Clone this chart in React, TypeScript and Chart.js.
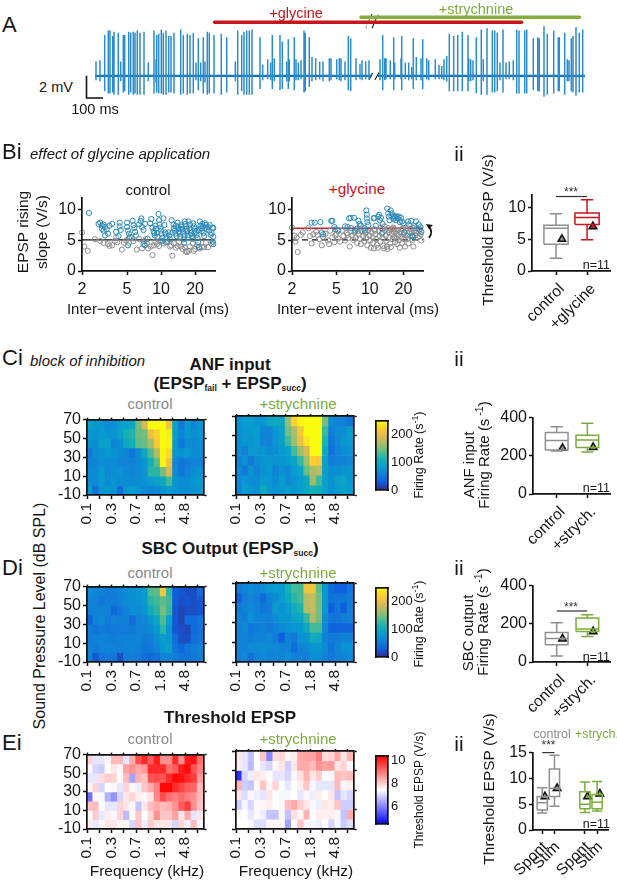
import React, { useEffect, useRef } from "react";
import { Chart, registerables } from "chart.js";

Chart.register(...registerables);

const FONT = "'Liberation Sans', Arial, sans-serif";
const INK = "#161616";
const GRAY = "#8a8a8a";
const GREEN = "#7cab3d";
const RED = "#c4161c";
const SCATTER_BLUE = "#2a88b8";
const SCATTER_GRAY = "#8d8d8d";

// ---------- Panel A: spike times (1 unit = 5.88 ms), upward and downward peak in mV ----------
const tallSpikes = [
  [9.7,3.7,1.4],[13.3,4.1,1.6],[15,4.1,1.6],[17.7,3.6,1.5],[19,4,1.7],[23.3,3.9,1.7],[28.3,3.7,1.5],[29.7,3.7,1.4],[33.7,4,1.7],[35.7,3.9,1.5],
  [38.3,4,1.7],[40,3.9,1.6],[42.3,4.1,1.7],[45,3.9,1.7],[49,4,1.7],[59,4.1,1.6],[61.7,3.7,1.5],[63.7,3.8,1.6],[66.3,4.2,1.6],[68.3,3.9,1.7],
  [71,4.1,1.7],[73.7,3.6,1.5],[76,3.6,1.5],[79,3.9,1.6],[85.7,4.2,1.7],[88.3,3.7,1.6],[92.3,3.8,1.7],[95,3.7,1.6],[98.3,3.9,1.6],[103.3,3.4,1.3],
  [108.3,3.5,1.6],[112.3,4,1.7],[114.3,3.9,1.6],[119,3.7,1.6],[126.3,3.8,1.7],[131.7,3.5,1.5],[142.7,4.1,1.7],[146.7,3.7,1.4],[149,4,1.7],[151.7,4.1,1.7],
  [154.3,4.1,1.7],[157,4.2,1.7],[165,3.5,1.2],[177.3,3.7,1.2],[185,3.7,1.3],[187.3,3.1,1.2],[193.3,3.3,1.2],[199.3,3.5,1.3],[209,4.1,1.5],[210.3,3.9,1.4],
  [214.3,3.5,1],[253.3,3.6,1.3],[255.7,3.4,1.4],[287.7,3.7,1.3],[298.7,3.5,1.3],[306.7,3.6,1.3],[318.3,3.4,1.2],[327.7,3.3,1.2],[354.3,3.8,1.4],[358.7,3.6,1.4],
  [362.7,3.7,1.4],[367.3,4,1.4],[373,3.7,1.4],[381.3,3.5,1.6],[386.3,4.2,1.7],[392,4.3,1.7],[397.3,4.1,1.5],[399.7,4.1,1.5],[402.3,3.9,1.4],[408,4.2,1.5],
  [421.7,4.2,1.6],[424,4.1,1.6],[429.7,4.1,1.6],[431.7,4.2,1.6],[438.3,3.4,1.3],[442.7,3.5,1.4],[444.3,3.4,1.4],[449,4.5,1.9],[452.3,3.8,1.7],[458.7,4.1,1.6],
  [463.3,3.5,1.4],[464.3,3.5,1.4],[469.7,3.9,1.7],[476.3,3.4,1.4],[478,3.6,1.5],[481,4.4,1.8],[484.3,3.9,1.5],[487.7,4.2,1.5],
];
const smallSpikes = [
  [1,1.3,0.4],[5,1.4,0.5],[25.7,1.3,0.5],[53.3,1.2,0.5],[61,1.5,0.6],[101,1.2,0.4],[105.7,1.2,0.5],[110,1.3,0.6],[140.3,1.3,0.5],[167.7,1,0.4],
  [172.7,1.5,0.3],[175.7,1.2,0.4],[179.3,1.6,0.5],[191.7,1.3,0.5],[194.3,1.5,0.5],[201,1.5,0.4],[203.3,1.2,0.4],[206,1.4,0.3],[217,1.7,0.5],[220.7,1.6,0.4],
  [224.7,1.3,0.3],[228,1.3,0.5],[234.3,1.6,0.5],[236,1.6,0.4],[241.7,1.5,0.3],[244.3,1.6,0.4],[246,1.6,0.5],[250,1.3,0.4],[261,1.6,0.4],[265,1.1,0.3],
  [267,1.4,0.4],[270.7,1.3,0.3],[274,1.4,0.3],[285,1.5,0.4],[289.7,1.6,0.4],[291,1.6,0.3],[295.3,1.4,0.3],[299.7,1.2,0.3],[306,1.6,0.3],[310.3,1.2,0.3],
  [313.7,1.2,0.4],[316.7,0.8,0.3],[321.3,1.7,0.4],[326,1.6,0.4],[331.7,1.6,0.3],[333.7,1.4,0.4],[340.3,1.5,0.3],[344,1,0.3],[346.7,0.9,0.3],[349,1.5,0.4],
  [351.7,1.8,0.5],[373.7,1.6,0.5],[375.7,1.5,0.5],[378,1.4,0.4],[388.3,1.5,0.5],[405,1.2,0.4],[411,1.2,0.3],[414.3,1.3,0.3],[418.3,1.4,0.4],[472.3,1.5,0.5],[474,1.4,0.5],
];
const traceSegments = [[0, 277], [283, 490]];
const glycineBar = [119.6, 426.6];
const strychnineBar = [266, 484.5];

// ---------- Panel B scatter: [inter-event interval ms, rising slope V/s] ----------
const controlBlue = [
  [2.3,9.5],[2.8,7.7],[2.9,7.9],[3,7.4],[3,6.9],[3.1,7.6],[3.1,6.6],[3.2,7.2],[3.3,6.8],[3.2,5.8],[3.4,6.1],[3.5,7.4],[3.7,7.7],[4,6.4],[4.3,7.9],[4.3,7.3],[4.4,6.7],[4.2,5.7],
  [5,7.9],[5,7.2],[5.1,6.6],[5.2,6.1],[5.3,5.6],[5.1,4.2],[5.6,8.2],[5.7,7.5],[5.8,7],[5.9,6.4],[6,5.8],[6.4,7.6],[6.6,8.2],[6.7,8.6],[6.8,7.2],[7,6.7],[7.2,7.7],[7,4.4],[7.2,4.2],[7.6,5.3],
  [8,7.8],[8.2,8.5],[8.4,7.1],[8.6,6.5],[8.7,6.2],[8.8,5.8],[8.9,7.4],[9,6.9],[9.2,6.2],[9.3,5.6],[9.5,9.3],[9.6,8.3],[9.7,7.6],[9.9,7.1],[10,6.6],[10.1,6.1],[10.3,5.4],[10.3,4.9],[10.5,8.6],
  [10.7,7.5],[10.9,6.3],[11,6],[11.2,5.5],[11.3,4.8],[11.6,6.3],[11.8,5.8],[12,5.2],[12.4,8.3],[12.6,6.3],[13,7],[13.2,6.6],[13.5,7.4],[13.7,5.7],[14,7.9],[14.2,7],[14.4,6.5],[14.6,6.1],[14.8,5.6],
  [15,7.5],[15.2,7.2],[15.4,6.8],[15.6,6.3],[15.8,5.2],[16,4.6],[16.2,8.1],[16.4,7.7],[16.6,7.3],[16.8,6.9],[17,6.5],[17.2,5.9],[17.4,5.5],[17.5,8.1],[17.8,7],[18,7.6],[18.2,6.7],[18.5,6.2],[18.8,5.7],
  [19,5.3],[19.3,7.8],[19.6,7.3],[20,6.9],[20.3,6.4],[20.6,5.9],[21,5.4],[21.3,4.7],[21.6,3.9],[22,8.1],[22.3,7.4],[22.6,7],[22.9,6.5],[23.2,7.7],[23.5,7.3],[23.8,6.2],[24,5.7],[24.5,7.8],[25,7.5],
  [25.5,6.9],[26,7.2],[26.5,6.6],[27,7.5],[27.5,5.9],[28,6.2],[28.5,7.1],[29,7],[29,5.6],[29,4.4],[28.7,4.8],[13.4,6.1],[14.9,6.9],[16.1,5.8],[19.8,6.2],[21.5,6.7],[12.9,7.6],
];
const controlGray = [
  [2,6.3],[2.1,4],[2.25,3.3],[2.6,5.2],[2.9,4.9],[3.1,4.6],[3.4,4.4],[3.5,4.1],[3.7,4.2],[3.9,4.9],[4.1,4.7],[4.5,3.5],[4.7,4.6],[4.9,5],[5.2,4.6],[5.5,5.5],[5.7,4.9],[6.1,3.5],[6.4,5.2],[6.8,3.7],
  [7.1,4.9],[7.5,4.5],[7.7,3.7],[8.1,4],[8.4,2.6],[8.6,4.2],[8.9,4.8],[9.2,4.4],[9.6,4.1],[10,4.9],[10.6,4.5],[11,4.7],[12,4],[12.3,4.2],[12.6,2.5],[13,4.5],[13.5,3.8],[14,4.1],[14.5,4.7],[15,4],
  [15.5,3.6],[16.2,3.9],[16.5,3.2],[17,3.1],[17.5,3.3],[18,4],[19,4.5],[19.5,3.3],[20,3.6],[21,4.2],[22,3.7],[23,3.9],[24,3.9],[25,4.6],[26,3.9],[28,4.4],[4,5.5],[5.2,5.4],[7.3,5.2],
];
const glycineBlue = [
  [3,7.9],[3.2,7.9],[3.6,8],[3.7,6.3],[3.8,6],[4.5,8.2],[4.6,8.2],[4.8,7.2],[4.9,6.8],[5.2,6.6],[6,7.3],[6.3,7.2],[6.5,8.6],[6.7,8.7],[6.8,7],[7.2,8.7],[7.4,6.6],[7.6,6.9],[7.9,8.2],[8.1,7.7],
  [8.3,7.4],[8.9,7],[9,6.6],[9.3,9.9],[9.4,9.2],[9.4,8.6],[9.5,8],[9.7,7.5],[10.8,8.6],[11,8.7],[11.3,7.4],[11.9,8.9],[12.1,9.2],[12.3,8.3],[12.6,8.7],[13,7.7],[13,6.3],[14.3,10.2],[14.6,9.4],[14.8,8.9],
  [15,8.3],[15.4,9.9],[15.7,9.4],[16,8.9],[16.3,8.5],[16.6,9],[16.9,8.7],[17.2,8.3],[17.5,8.9],[17.9,8.6],[18.2,8.9],[18.6,8],[19,8.7],[19.4,8.1],[20,7.8],[20.4,6.3],[22,8.1],[22.4,7.6],[23.5,8.2],[24,5.7],
  [24.4,5.6],[25,7.3],[26,8.1],[27.5,7.6],[28,6.8],[28.5,7.2],[29,6.4],
];
const glycineGray = [
  [2,7.1],[2.1,5.8],[2.15,4.8],[2.2,5.5],[2.25,3.1],[2.4,5.9],[2.5,6.3],[2.8,7],[2.9,5.7],[3,4.5],[3.1,6],[3.3,6.4],[3.5,5.2],[3.7,4.2],[3.8,5.6],[4,6.1],[4.2,5],[4.3,4.4],[4.4,6.6],[4.6,5.5],
  [4.8,4.7],[5,6.1],[5.2,5.3],[5.4,4.8],[5.6,6.6],[5.8,5.7],[6,5],[6.2,6.2],[6.4,5.4],[6.6,4],[6.7,6.5],[6.9,5.8],[7.1,5.1],[7.3,6.3],[7.5,5.5],[7.7,4.6],[7.9,6],[8.1,5.3],[8.3,4.4],[8.5,6.5],
  [8.7,5.7],[8.9,4.9],[9.1,6.2],[9.3,5.4],[9.5,4.2],[9.7,6.7],[9.9,5.8],[10.1,5],[10.2,3.8],[10.4,6.3],[10.6,5.5],[10.7,4.6],[10.9,3.7],[11,6.8],[11.2,6],[11.4,5.2],[11.6,4.3],[11.8,3.8],[12,6.5],[12.2,5.7],
  [12.4,4.8],[12.6,7.1],[12.8,6.1],[13,5.4],[13.2,4.1],[13.4,3.7],[13.5,7.3],[13.7,6.6],[13.9,5.8],[14.1,4.9],[14.3,4],[14.4,3.6],[14.6,7],[14.8,6.3],[15,5.5],[15.2,4.5],[15.4,3.9],[15.6,6.8],[15.8,6],[16,5.2],
  [16.2,7.1],[16.4,6.4],[16.6,5.6],[16.8,4.7],[17,6.8],[17.2,6.1],[17.4,5.3],[17.6,4.4],[17.8,6.6],[18,5.8],[18.3,5],[18.6,3.8],[18.9,6.3],[19.2,5.5],[19.5,4.6],[19.8,6.9],[20.1,6],[20.4,5.2],[20.7,4],
  [21,6.6],[21.4,5.8],[21.8,5.3],[22.2,4.5],[22.6,6.4],[23,5.7],[23.4,6.9],[23.8,6.2],[24.2,5.1],[24.6,4],[25,6.6],[25.5,5.8],[26,6.2],[26.5,7],[27,5.5],[27.5,6.4],[28,5.7],[28.6,6],[29,5],
  [3.4,5.9],[4.9,5.8],[6.3,5.9],[7.8,6.5],[9.4,6.4],[11.1,6.6],[12.9,6.9],[14.7,6.7],[16.5,6.9],[19.1,6.8],[21.6,7],[24.9,7],
];
const thresholdGlycine = [7];
const thresholdControl = [5.1];

// ---------- Heat maps: 8 level rows from 70 dB down, 19 frequency columns ----------
const freqTickLabels = { 0: "0.1", 4: "0.3", 8: "0.7", 12: "1.8", 16: "4.8" };
const levelTicks = [-10, 10, 30, 50, 70];
const anfControl = [
  [88,80,78,70,72,85,90,98,150,190,250,250,250,210,90,50,80,60,80],
  [80,74,82,74,76,88,110,118,145,150,205,225,250,240,85,60,80,72,78],
  [76,70,90,88,64,72,95,110,140,145,165,215,250,245,80,50,70,66,72],
  [52,70,74,80,74,70,62,50,70,100,135,175,245,230,80,75,82,68,70],
  [62,64,72,70,70,60,60,62,66,80,110,140,245,210,65,50,55,60,62],
  [66,70,84,66,72,74,66,62,68,76,120,120,150,190,70,50,60,70,74],
  [70,68,82,70,76,72,70,66,70,74,85,90,100,130,80,70,72,80,82],
  [82,45,78,80,74,40,78,84,76,66,62,66,74,82,76,72,70,74,78],
];
const anfStrych = [
  [74,82,86,74,78,92,100,96,160,225,245,250,250,250,150,70,60,60,50],
  [72,78,82,84,64,62,78,88,150,170,215,250,250,250,125,55,68,72,88],
  [72,80,76,82,62,58,76,90,130,165,205,235,250,250,115,50,65,80,82],
  [70,58,78,78,78,70,72,84,88,130,165,190,250,250,100,45,60,72,76],
  [60,74,52,70,76,80,74,78,84,95,125,165,225,215,90,55,58,62,66],
  [68,52,76,60,74,80,58,74,66,82,92,145,170,175,90,70,72,76,80],
  [66,78,72,70,82,78,70,84,66,76,86,100,165,130,90,72,88,92,80],
  [62,84,78,74,104,82,76,80,84,78,86,96,110,105,88,74,82,90,84],
];
const sbcControl = [
  [70,64,60,52,56,62,68,72,74,82,135,140,210,120,30,25,18,20,40],
  [62,58,50,56,54,60,68,70,74,85,120,130,140,130,30,20,25,20,25],
  [58,60,62,58,38,50,60,72,66,76,105,120,150,125,25,15,20,20,25],
  [35,60,66,54,60,58,58,40,60,66,78,95,135,90,25,15,40,40,50],
  [56,46,56,50,52,54,56,52,60,62,70,80,120,75,25,20,15,40,45],
  [56,60,62,58,56,58,60,62,64,54,56,72,85,80,40,20,20,45,50],
  [58,54,60,62,60,58,62,60,60,50,52,60,80,90,50,35,50,55,62],
  [62,25,46,52,50,20,56,58,52,42,38,44,60,64,56,50,46,52,56],
];
const sbcStrych = [
  [56,60,68,64,72,78,84,82,110,130,130,210,210,140,80,40,30,30,50],
  [30,56,64,56,38,62,70,84,100,120,130,175,180,150,80,45,50,50,55],
  [52,62,66,60,50,54,86,72,84,105,115,175,180,150,80,30,50,30,55],
  [58,56,74,62,62,58,70,80,76,92,95,125,170,150,70,50,48,56,62],
  [60,68,50,56,60,52,60,66,74,78,80,100,130,130,65,35,35,35,35],
  [60,60,54,60,62,66,52,30,58,52,75,76,105,100,60,52,54,62,58],
  [62,60,68,70,72,68,66,60,64,40,62,66,80,80,70,45,60,75,75],
  [60,66,45,62,66,60,62,64,70,60,62,56,72,70,60,52,58,62,66],
];
const thrControl = [
  [8,7.2,7.2,7.6,8.3,8.3,7.2,8.5,9.6,10,9.4,10.2,8.8,8.8,10,8.8,10.2,10.3,9.2],
  [7.6,7,6.9,7.5,7.8,7.6,8.6,8.8,8.5,8.7,10,10,10,9.2,9.4,10.2,10.4,9.5,9],
  [7.2,7.2,7.9,8.1,8,7.5,8.3,6.4,8.4,8.2,9.5,9.6,9.5,10,10.4,10.3,10,9.8,8.7],
  [7.6,8,7,7.5,7.6,7.2,8,7.6,7.3,8.2,8.5,9,10.4,10.4,10,9.7,9.4,9.3,8.3],
  [5.8,7.6,7.4,6.6,6.2,7,7.8,8,7.7,7.6,7.8,8.9,9.6,9.2,9,9.2,9,8.8,8.3],
  [8.2,8.3,7.5,7.2,7.2,8,7.8,7.6,6.8,7.8,8.3,8.5,8.3,8.4,8.8,9.4,9.8,8.8,8.2],
  [7.4,8.1,7.2,7.7,7.4,8,6.7,7.5,8.2,7.5,8,8.8,8.2,8.2,8.6,7.8,8.5,7.2,7.8],
  [7.7,7.2,7.6,7.8,7.8,7.6,7.6,7,8.2,7.3,8.1,7.8,7.8,7.8,7,8,7.3,8.3,7.4],
];
const thrStrych = [
  [7.8,7.2,6.8,7.5,8.2,6.1,7.9,8,7.6,7.7,8.5,8.6,8.6,9,7.9,8,8.5,7.8,8.4],
  [7.7,7.2,6.7,7.5,7.2,7,7.6,7.8,6.9,7.8,8.5,8.5,8.3,8.8,8.6,8.7,7.8,8,7.4],
  [5,7,7.3,7.8,7.7,7.5,7.2,7.2,7,7.4,7.9,8.4,7.8,8.1,7.5,7.6,8.3,8.2,8.3],
  [8.4,6.9,6.8,7.6,8.2,7.6,8,7.5,7.2,7.5,7.7,8.2,7.4,7.2,7.2,7.2,8.3,7.4,7.7],
  [7.8,7.1,7.6,7.3,7.2,7.8,7.5,7.4,7.4,7.5,7.2,7.6,7.3,7.7,7.5,7.8,6.8,7.2,7],
  [6.9,7.4,7,7.6,7.6,7.7,7.5,7.6,8.3,8.5,8.1,7.8,7.4,7.3,7.8,7.7,8.2,6.9,6.9],
  [7.6,7.5,7.2,7.6,7.3,6.8,6.8,7.6,6.8,7.9,7.6,8.4,7.5,7.7,7.7,7.7,7.4,6.8,8.5],
  [7.5,7.5,7.4,7.1,7.1,7.6,7.6,7.6,6.4,7.5,8.2,7.4,7.4,7.3,7.5,7,7.4,6.9,7.1],
];

// ---------- Box plots: [low whisker, q1, median, q3, high whisker] and mean ----------
const biiBoxes = [[2, 4.2, 6.7, 7.2, 9], [4.9, 7.3, 8.4, 9.1, 11.2]];
const biiMeans = [5, 7];
const ciiBoxes = [[225, 230, 280, 322, 352], [220, 244, 283, 308, 370]];
const ciiMeans = [240, 245];
const diiBoxes = [[32, 90, 123, 155, 206], [133, 160, 173, 230, 248]];
const diiMeans = [122, 160];
const eiiBoxes = [[3.3, 3.9, 5.3, 6.5, 8.2], [4.6, 6.5, 8.1, 11.8, 14.5], [3.4, 4.1, 5, 7.4, 9.3], [3.7, 4.1, 5.4, 6.9, 9.4]];
const eiiMeans = [6.5, 8.1, 6.5, 7];

// ---------- Colour maps ----------
const parulaStops = [[53,42,135],[15,92,221],[18,125,216],[7,156,207],[21,177,180],[89,189,140],[165,190,107],[225,185,82],[252,206,46],[249,251,14]];
const rgb = (c: number[]) => `rgb(${Math.round(c[0])},${Math.round(c[1])},${Math.round(c[2])})`;
function parula(t: number) {
  const v = Math.min(1, Math.max(0, t)) * (parulaStops.length - 1);
  const i = Math.min(parulaStops.length - 2, Math.floor(v));
  const f = v - i;
  return rgb(parulaStops[i].map((a, k) => a + (parulaStops[i + 1][k] - a) * f));
}
const rateColor = (v: number) => parula(v / 250);
function bwrUnit(t: number) {
  const c = Math.min(1, Math.max(0, t));
  if (c < 0.5) { const g = 255 * (c / 0.5); return rgb([g, g, 255]); }
  const g = 255 * ((1 - c) / 0.5);
  return rgb([255, g, g]);
}
const thrColor = (v: number) => bwrUnit((v - 4.5) / 6);

// ---------- Shared axis helpers ----------
const fixedTicks = (vals: number[]) => (s: any) => { s.ticks = vals.map((value) => ({ value })); };
const axisBase = (size = 15, extra: any = {}) => ({
  offset: false,
  border: { display: true, color: "#111", width: 1.7, z: 1 },
  grid: { display: true, offset: false, drawOnChartArea: false, drawTicks: true, tickLength: 4, tickColor: "#111", tickWidth: 1.5 },
  ticks: { font: { family: FONT, size }, color: INK, padding: 2, autoSkip: false, minRotation: 0, maxRotation: 0 },
  ...extra,
});
// m = [left, top, right, bottom] space around the plot. An axis takes exactly its side's space,
// so that its labels are not clipped and the plot area lands where it should.
const baseOptions = (m: number[], scales: any) => {
  const padding: any = { left: m[0], top: m[1], right: m[2], bottom: m[3] };
  const sideIndex: any = { left: 0, top: 1, right: 2, bottom: 3 };
  Object.keys(scales).forEach((key) => {
    const sc = scales[key];
    if (sc.display === false) return;
    const side = sc.position ?? (key[0] === "x" ? "bottom" : "left");
    const size = m[sideIndex[side]];
    padding[side] = 0;
    sc.afterFit = (s: any) => { if (s.isHorizontal()) s.height = size; else s.width = size; };
  });
  return {
    responsive: false,
    animation: false as const,
    devicePixelRatio: 1,
    layout: { autoPadding: false, padding },
    plugins: { legend: { display: false }, title: { display: false }, tooltip: { enabled: false } },
    scales,
  };
};

// ---------- Panel: one canvas placed so that its plot area lands on the wanted rectangle ----------
function Panel({ plot, margin, build }: { plot: number[]; margin: number[]; build: () => any }) {
  const ref = useRef<HTMLCanvasElement>(null);
  useEffect(() => {
    const chart = new Chart(ref.current as any, build());
    return () => chart.destroy();
  }, []);
  const [x0, y0, x1, y1] = plot;
  const [l, t, r, b] = margin;
  const w = Math.round(x1 - x0 + l + r);
  const h = Math.round(y1 - y0 + t + b);
  return <canvas ref={ref} width={w} height={h} style={{ position: "absolute", left: x0 - l, top: y0 - t, width: w, height: h }} />;
}

function T({ x, y, size = 15, color = INK, rot = 0, bold = false, italic = false, align = "center", children }: any) {
  const tx = align === "left" ? "0" : align === "right" ? "-100%" : "-50%";
  return (
    <div style={{ position: "absolute", left: x, top: y, transform: `translate(${tx},-50%) rotate(${rot}deg)`, fontFamily: FONT, fontSize: size, color, fontWeight: bold ? 700 : 400, fontStyle: italic ? "italic" : "normal", whiteSpace: "nowrap", lineHeight: 1 }}>
      {children}
    </div>
  );
}
const Sup = ({ children }: any) => <sup style={{ fontSize: "0.7em", verticalAlign: "0.5em", lineHeight: 0 }}>{children}</sup>;
const Sub = ({ children }: any) => <sub style={{ fontSize: "0.5em", verticalAlign: "-0.25em", lineHeight: 0 }}>{children}</sub>;

// ---------- Chart builders ----------
function traceConfig() {
  const spikePts = (list: number[][]) => {
    const pts: any[] = [];
    list.forEach(([t, up, down]) => { pts.push({ x: t, y: up }, { x: t, y: -down }, { x: t, y: NaN }); });
    return pts;
  };
  const line = (data: any[], color: string, width: number, cap: any = "butt", dash: number[] = []) => ({
    data, borderColor: color, borderWidth: width, showLine: true, pointRadius: 0, borderCapStyle: cap, borderDash: dash, spanGaps: false, tension: 0,
  });
  const datasets = [
    line(spikePts(tallSpikes), "#2b8ccb", 1.5),
    line(spikePts(smallSpikes), "#2b8ccb", 1.5),
    ...traceSegments.map(([a, b]) => line([{ x: a, y: 0 }, { x: b, y: 0 }], "#1573bb", 2.2)),
    line([{ x: -8.5, y: 0 }, { x: -8.5, y: -2 }, { x: 8, y: -2 }], "#111", 1.6),
    line([{ x: glycineBar[0], y: 4.85 }, { x: glycineBar[1], y: 4.85 }], RED, 3.4, "round"),
    line([{ x: strychnineBar[0], y: 5.3 }, { x: strychnineBar[1], y: 5.3 }], "#84ad3c", 3.4, "round"),
    line([{ x: 273, y: 4.3 }, { x: 281, y: 5.7 }], "#fff", 5),
    line([{ x: 271, y: 4.3 }, { x: 277, y: 5.6 }], "#111", 1.1),
    line([{ x: 277, y: 4.3 }, { x: 283, y: 5.6 }], "#111", 1.1),
    line([{ x: 274, y: -0.35 }, { x: 277.5, y: 0.25 }], "#111", 1.1),
    line([{ x: 280, y: -0.35 }, { x: 284, y: 0.3 }], "#111", 1.1),
  ];
  return {
    type: "scatter",
    data: { datasets },
    options: baseOptions([0, 0, 0, 0], {
      x: { type: "linear", display: false, min: -15, max: 500 },
      y: { type: "linear", display: false, min: -3, max: 6.5 },
    }),
  };
}

function scatterConfig(blue: number[][], gray: number[][], solidLine: { v: number; color: string; width: number; dash?: number[] }[]) {
  const pts = (l: number[][]) => l.map(([x, y]) => ({ x, y }));
  const circles = (d: number[][], color: string) => ({
    data: pts(d), showLine: false, pointStyle: "circle", pointRadius: 2.6, pointBorderWidth: 1, pointBorderColor: color, pointBackgroundColor: "rgba(255,255,255,0)", clip: false,
  });
  const lines = solidLine.map((l) => ({
    data: [{ x: 2, y: l.v }, { x: 30, y: l.v }], showLine: true, pointRadius: 0, borderColor: l.color, borderWidth: l.width, borderDash: l.dash || [],
  }));
  const xb = axisBase(16);
  return {
    type: "scatter",
    data: { datasets: [circles(blue, SCATTER_BLUE), circles(gray, SCATTER_GRAY), ...lines] },
    options: baseOptions([30, 6, 12, 30], {
      x: axisBase(16, {
        type: "logarithmic", min: 2, max: 30,
        afterBuildTicks: fixedTicks([2, 5, 10, 20]),
        ticks: { ...xb.ticks, padding: 5, callback: (v: any) => String(v) },
      }),
      y: axisBase(16, { type: "linear", min: 0, max: 12, afterBuildTicks: fixedTicks([0, 5, 10]) }),
    }),
  };
}

function heatConfig(rows: number[][], color: (v: number) => string, cell: number, showY: boolean) {
  const datasets = rows.map((row, r) => ({
    data: row.map((_, c) => ({ x: c + 0.5, y: [60 - 10 * r, 70 - 10 * r] })),
    backgroundColor: row.map((v) => color(v)),
    borderWidth: 0,
    barThickness: cell + 0.4,
    grouped: false,
  }));
  const xBase = axisBase(15.5);
  const yBase = axisBase(16);
  const tickSet = [0, 2, 4, 6, 8, 10, 12, 14, 16, 18];
  return {
    type: "bar",
    data: { datasets },
    options: baseOptions([34, 8, 10, 40], {
      x: axisBase(15.5, {
        type: "linear", min: 0, max: 19,
        afterBuildTicks: fixedTicks(tickSet),
        ticks: { ...xBase.ticks, minRotation: 90, maxRotation: 90, padding: 4, callback: (v: any) => (freqTickLabels as any)[v] ?? "" },
      }),
      x2: axisBase(15.5, { type: "linear", position: "top", min: 0, max: 19, afterBuildTicks: fixedTicks(tickSet), ticks: { ...xBase.ticks, display: false }, grid: { ...xBase.grid, tickLength: 2 } }),
      y: axisBase(16, {
        type: "linear", min: -10, max: 70,
        afterBuildTicks: fixedTicks(levelTicks),
        ticks: { ...yBase.ticks, display: showY },
      }),
      y2: axisBase(16, { type: "linear", position: "right", min: -10, max: 70, afterBuildTicks: fixedTicks(levelTicks), ticks: { ...yBase.ticks, display: false }, grid: { ...yBase.grid, tickLength: 3 } }),
    }),
  };
}

function colorbarConfig(lo: number, hi: number, ticks: number[], unit: (t: number) => string) {
  const fill = (ctx: any) => {
    const area = ctx.chart.chartArea;
    if (!area) return "#fff";
    const g = ctx.chart.ctx.createLinearGradient(0, area.bottom, 0, area.top);
    for (let i = 0; i <= 32; i++) g.addColorStop(i / 32, unit(i / 32));
    return g;
  };
  const noTicks = (o: any) => {
    const b = axisBase(13);
    return { ...b, ...o, grid: { ...b.grid, drawTicks: false, tickLength: 0 }, ticks: { ...b.ticks, display: false } };
  };
  const yb = axisBase(13);
  return {
    type: "bar",
    data: { labels: [""], datasets: [{ data: [[lo, hi]], backgroundColor: fill, borderWidth: 0, barPercentage: 1, categoryPercentage: 1 }] },
    options: baseOptions([4, 6, 34, 6], {
      x: noTicks({ type: "category", position: "bottom", offset: true }),
      x2: noTicks({ type: "category", position: "top", labels: [""], offset: true }),
      y: {
        ...yb, type: "linear", position: "right", min: lo, max: hi,
        afterBuildTicks: fixedTicks(ticks),
        grid: { ...yb.grid, drawTicks: false, tickLength: 0 },
        ticks: { ...yb.ticks, padding: 3 },
      },
      y2: noTicks({ type: "linear", position: "left", min: lo, max: hi }),
    }),
  };
}

function boxConfig(opts: {
  boxes: number[][]; means: number[]; centers: number[]; colors: string[]; fills: string[];
  xRange: number[]; yMax: number; yTicks: number[]; labels: string[]; half: number; cap: number; meanShift: number;
  sig?: number[]; tickFont: number; labelFont: number; meanR?: number; labelShift?: number; labelPad?: number;
}) {
  const { boxes, means, centers, colors, fills, xRange, yMax, yTicks, labels, half, cap, meanShift, sig, tickFont, labelFont, meanR, labelShift, labelPad } = opts;
  const gap = (x: number) => ({ x, y: NaN });
  const datasets: any[] = boxes.map(([lo, q1, med, q3, hi], i) => {
    const c = centers[i];
    return {
      data: [
        { x: c - half, y: q1 }, { x: c + half, y: q1 }, { x: c + half, y: q3 }, { x: c - half, y: q3 }, { x: c - half, y: q1 }, gap(c),
        { x: c - half, y: med }, { x: c + half, y: med }, gap(c),
        { x: c, y: q3 }, { x: c, y: hi }, gap(c), { x: c - cap, y: hi }, { x: c + cap, y: hi }, gap(c),
        { x: c, y: q1 }, { x: c, y: lo }, gap(c), { x: c - cap, y: lo }, { x: c + cap, y: lo },
      ],
      showLine: true, pointRadius: 0, borderColor: colors[i], borderWidth: 1.5, spanGaps: false, clip: false,
    };
  });
  datasets.push({
    data: means.map((m, i) => ({ x: centers[i] + meanShift, y: m })),
    showLine: false, pointStyle: "triangle", pointRadius: meanR ?? 4.4, pointBackgroundColor: fills, pointBorderColor: "#111", pointBorderWidth: 1.5, clip: false,
  });
  if (sig) {
    datasets.push({ data: [{ x: sig[0], y: sig[2] }, { x: sig[1], y: sig[2] }], showLine: true, pointRadius: 0, borderColor: "#333", borderWidth: 1.2, clip: false });
  }
  const xb = axisBase(labelFont);
  return {
    type: "scatter",
    data: { datasets },
    options: baseOptions([40, 10, 5, 60], {
      x: {
        ...xb, type: "linear", min: xRange[0], max: xRange[1],
        afterBuildTicks: fixedTicks(centers),
        ticks: { ...xb.ticks, minRotation: 45, maxRotation: 45, padding: labelPad ?? 5, labelOffset: labelShift ?? 6, callback: (_: any, i: number) => labels[i] },
      },
      y: axisBase(tickFont, { type: "linear", min: 0, max: yMax, afterBuildTicks: fixedTicks(yTicks) }),
    }),
  };
}

const cell = 124.4 / 19;
const boxCenters2 = [1, 2];
const boxRange2 = [0.226, 2.74];
const boxColorsRed = ["#8f8f8f", RED];
const boxColorsGreen = ["#8f8f8f", GREEN];

export default function App() {
  const xPlots = [[87.3, 211.7], [236, 360.8]];
  return (
    <div style={{ position: "absolute", left: 0, top: 0, width: 617, height: 881, overflow: "hidden", background: "#fff" }}>
      {/* A */}
      <T x={2} y={25} size={22} align="left">A</T>
      <Panel plot={[80, 3.5, 595, 108]} margin={[0, 0, 0, 0]} build={traceConfig} />
      <T x={296} y={13} size={14.5} color={RED}>+glycine</T>
      <T x={476} y={9} size={14.5} color="#7fa93c">+strychnine</T>
      <T x={56} y={87} size={14.5}>2 mV</T>
      <T x={95} y={109} size={14.5}>100 ms</T>

      {/* Bi */}
      <T x={2} y={152} size={22} align="left">Bi</T>
      <T x={30} y={153} size={15} italic align="left">effect of glycine application</T>
      <T x={148} y={189} size={15}>control</T>
      <T x={357} y={189} size={15.3} color={RED}>+glycine</T>
      <T x={23} y={232} size={15.5} rot={-90}>EPSP rising</T>
      <T x={42} y={232} size={15.5} rot={-90}>slope (V/s)</T>
      <Panel plot={[82, 192, 215, 271]} margin={[30, 6, 12, 30]} build={() => scatterConfig(controlBlue, controlGray, [{ v: thresholdControl[0], color: "#111", width: 1.3 }])} />
      <Panel plot={[292, 192, 423, 271]} margin={[30, 6, 12, 30]} build={() => scatterConfig(glycineBlue, glycineGray, [{ v: thresholdGlycine[0], color: "#c8202c", width: 1.5 }, { v: thresholdControl[0], color: "#111", width: 1.3, dash: [6, 4] }])} />
      <svg width={14} height={20} style={{ position: "absolute", left: 424, top: 222 }}>
        <path d="M4 4 Q10 9 5 16" fill="none" stroke="#111" strokeWidth={1.8} />
        <path d="M2 2 L9 3 L5 7 Z" fill="#111" />
      </svg>
      <T x={148} y={308} size={15}>Inter−event interval (ms)</T>
      <T x={358} y={308} size={15}>Inter−event interval (ms)</T>

      {/* Bii */}
      <T x={459} y={153} size={21}>ii</T>
      <T x={488} y={230} size={15.5} rot={-90}>Threshold EPSP (V/s)</T>
      <Panel plot={[532, 193, 610, 271]} margin={[40, 10, 5, 60]} build={() => boxConfig({ boxes: biiBoxes, means: biiMeans, centers: boxCenters2, colors: boxColorsRed, fills: ["#8f8f8f", "#b5262c"], xRange: boxRange2, yMax: 12, yTicks: [0, 5, 10], labels: ["control", "+glycine"], half: 0.39, cap: 0.2, meanShift: 0.19, sig: [1, 2, 11.7], tickFont: 16, labelFont: 15.5 })} />
      <T x={571} y={192} size={12} color="#333">***</T>
      <T x={610} y={265} size={12.5} align="right">n=11</T>

      {/* Ci */}
      <T x={2} y={358} size={22} align="left">Ci</T>
      <T x={30} y={360} size={15} italic align="left">block of inhibition</T>
      <T x={230} y={364} size={17} bold>ANF input</T>
      <T x={230} y={383} size={17} bold>(EPSP<Sub>fail</Sub> + EPSP<Sub>succ</Sub>)</T>
      <T x={150} y={403} size={15} color={GRAY}>control</T>
      <T x={298} y={403} size={15} color={GREEN}>+strychnine</T>
      <Panel plot={[xPlots[0][0], 415.7, xPlots[0][1], 494.3]} margin={[34, 8, 10, 40]} build={() => heatConfig(anfControl, rateColor, cell, true)} />
      <Panel plot={[xPlots[1][0], 415.7, xPlots[1][1], 494.3]} margin={[34, 8, 10, 40]} build={() => heatConfig(anfStrych, rateColor, cell, false)} />
      <Panel plot={[375.7, 415.7, 387.7, 494.3]} margin={[4, 6, 34, 6]} build={() => colorbarConfig(0, 250, [0, 100, 200], parula)} />
      <T x={419} y={455} size={12.5} rot={-90}>Firing Rate (s<Sup>-1</Sup>)</T>

      {/* Cii */}
      <T x={459} y={358} size={21}>ii</T>
      <T x={468} y={465} size={15} rot={-90}>ANF input</T>
      <T x={483} y={455} size={15} rot={-90}>Firing Rate (s<Sup> -1</Sup>)</T>
      <Panel plot={[533, 415.7, 610, 494]} margin={[40, 10, 5, 60]} build={() => boxConfig({ boxes: ciiBoxes, means: ciiMeans, centers: boxCenters2, colors: boxColorsGreen, fills: ["#8f8f8f", GREEN], xRange: boxRange2, yMax: 400, yTicks: [0, 200, 400], labels: ["control", "+strych."], half: 0.37, cap: 0.2, meanShift: 0.19, tickFont: 16, labelFont: 15.5 })} />
      <T x={610} y={488} size={12.5} align="right">n=11</T>

      {/* Di */}
      <T x={2} y={568} size={22} align="left">Di</T>
      <T x={230} y={548} size={17} bold>SBC Output (EPSP<Sub>succ</Sub>)</T>
      <T x={150} y={572} size={15} color={GRAY}>control</T>
      <T x={298} y={572} size={15} color={GREEN}>+strychnine</T>
      <Panel plot={[xPlots[0][0], 583.3, xPlots[0][1], 662.3]} margin={[34, 8, 10, 40]} build={() => heatConfig(sbcControl, rateColor, cell, true)} />
      <Panel plot={[xPlots[1][0], 583.3, xPlots[1][1], 662.3]} margin={[34, 8, 10, 40]} build={() => heatConfig(sbcStrych, rateColor, cell, false)} />
      <Panel plot={[375.7, 583.3, 387.7, 662.3]} margin={[4, 6, 34, 6]} build={() => colorbarConfig(0, 250, [0, 100, 200], parula)} />
      <T x={419} y={624} size={12.5} rot={-90}>Firing Rate (s<Sup>-1</Sup>)</T>
      <T x={40} y={616} size={16} rot={-90}>Sound Pressure Level (dB SPL)</T>

      {/* Dii */}
      <T x={459} y={567} size={21}>ii</T>
      <T x={467} y={633} size={15} rot={-90}>SBC output</T>
      <T x={482} y={622} size={15} rot={-90}>Firing Rate (s<Sup> -1</Sup>)</T>
      <Panel plot={[533, 584, 610, 662.3]} margin={[40, 10, 5, 60]} build={() => boxConfig({ boxes: diiBoxes, means: diiMeans, centers: boxCenters2, colors: boxColorsGreen, fills: ["#8f8f8f", GREEN], xRange: boxRange2, yMax: 400, yTicks: [0, 200, 400], labels: ["control", "+strych."], half: 0.37, cap: 0.2, meanShift: 0.19, sig: [1, 2, 267], tickFont: 16, labelFont: 15.5 })} />
      <T x={571} y={607} size={12} color="#333">***</T>
      <T x={610} y={657} size={12.5} align="right">n=11</T>

      {/* Ei */}
      <T x={2} y={743} size={22} align="left">Ei</T>
      <T x={230} y={717} size={17} bold>Threshold EPSP</T>
      <T x={150} y={738} size={15} color={GRAY}>control</T>
      <T x={298} y={738} size={15} color={GREEN}>+strychnine</T>
      <Panel plot={[xPlots[0][0], 751, xPlots[0][1], 829.3]} margin={[34, 8, 10, 40]} build={() => heatConfig(thrControl, thrColor, cell, true)} />
      <Panel plot={[xPlots[1][0], 751, xPlots[1][1], 829.3]} margin={[34, 8, 10, 40]} build={() => heatConfig(thrStrych, thrColor, cell, false)} />
      <Panel plot={[375.7, 751, 387.7, 829.3]} margin={[4, 6, 34, 6]} build={() => colorbarConfig(4.48, 10.43, [6, 8, 10], bwrUnit)} />
      <T x={419} y={790} size={12} rot={-90}>Threshold EPSP (V/s)</T>
      <T x={147} y={871} size={15.5}>Frequency (kHz)</T>
      <T x={296} y={871} size={15.5}>Frequency (kHz)</T>

      {/* Eii */}
      <T x={459} y={743} size={21}>ii</T>
      <T x={489} y={789} size={15.5} rot={-90}>Threshold EPSP (V/s)</T>
      <T x={552} y={734} size={12.5} color={GRAY}>control</T>
      <T x={597} y={734} size={12.5} color={GREEN}>+strych.</T>
      <Panel plot={[533, 750.7, 610, 829.3]} margin={[40, 10, 5, 60]} build={() => boxConfig({ boxes: eiiBoxes, means: eiiMeans, centers: [1, 2, 4.5, 5.5], colors: ["#8f8f8f", "#8f8f8f", GREEN, GREEN], fills: ["#8f8f8f", "#8f8f8f", GREEN, GREEN], xRange: [0.24, 6.42], yMax: 15, yTicks: [0, 5, 10, 15], labels: ["Spont", "Stim", "Spont", "Stim"], half: 0.42, cap: 0.42, meanShift: 0.22, sig: [1, 2, 15], tickFont: 16, labelFont: 15.5, labelShift: 3, labelPad: 4 })} />
      <T x={548.5} y={745} size={12} color="#333">***</T>
      <T x={610} y={824} size={12.5} align="right">n=11</T>
    </div>
  );
}
